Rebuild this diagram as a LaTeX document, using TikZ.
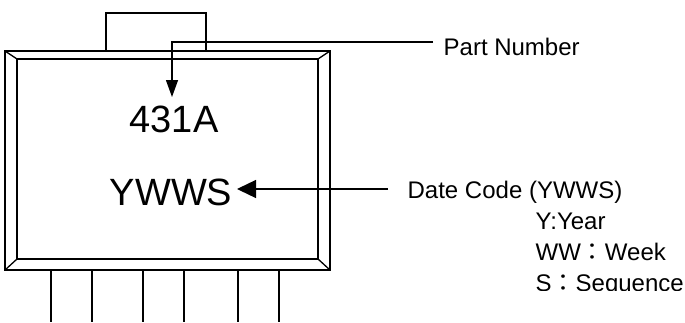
\documentclass[tikz,border=0pt]{standalone}
\usepackage{fontspec}
\setmainfont{Liberation Sans}
\newfontfamily\cjk{Noto Sans CJK TC}
\usetikzlibrary{arrows.meta}

\tikzset{
body/.style={draw, rectangle, inner sep=0pt, outer sep=0pt},
mark text/.style={font=\fontsize{38}{38}\selectfont, inner sep=0pt, anchor=base},
label text/.style={font=\fontsize{24}{24}\selectfont, inner sep=0pt, anchor=base west},
}

\begin{document}
\begin{tikzpicture}[x=1pt, y=-1pt, line width=1.3pt]
\useasboundingbox (0,0) rectangle (685,322);
\node[body, minimum width=100pt, minimum height=38pt] (tab) at (156,32) {};
\node[body, minimum width=325pt, minimum height=219pt] (outer) at (167.5,160.5) {};
\node[body, minimum width=301pt, minimum height=200pt] (inner) at (167.5,159) {};
\foreach \corner in {north west, north east, south west, south east}
	\draw (outer.\corner) -- (inner.\corner);
\foreach \pin in {51,92,143,184,238,279}
	\draw (\pin,270) -- (\pin,322);
\node[mark text] (part) at (174,132) {431A};
\node[mark text] (date) at (171,205) {YWWS};
\node[label text] (partlabel) at (443,55) {Part Number};
\node[label text] (datelabel) at (407,198) {Date Code (YWWS)};
\node[label text] (yearlabel) at (535,229) {Y:Year};
\node[label text] (weeklabel) at (535,260) {WW{\cjk ：}Week};
\begin{scope}
\clip (500,265) rectangle (685,290);
\node[label text] (seqlabel) at (535,291) {S{\cjk ：}Sequence};
\end{scope}
\coordinate (partend) at (433,42);
\coordinate (partbend) at (172,42);
\coordinate (parttip) at (172,97);
\coordinate (dateend) at (388,189);
\coordinate (datetip) at (237,189);
\draw[-{Triangle[length=17pt, width=12pt]}] (partend) -- (partbend) -- (parttip);
\draw[-{Triangle[length=19pt, width=18pt]}] (dateend) -- (datetip);
\end{tikzpicture}
\end{document}
